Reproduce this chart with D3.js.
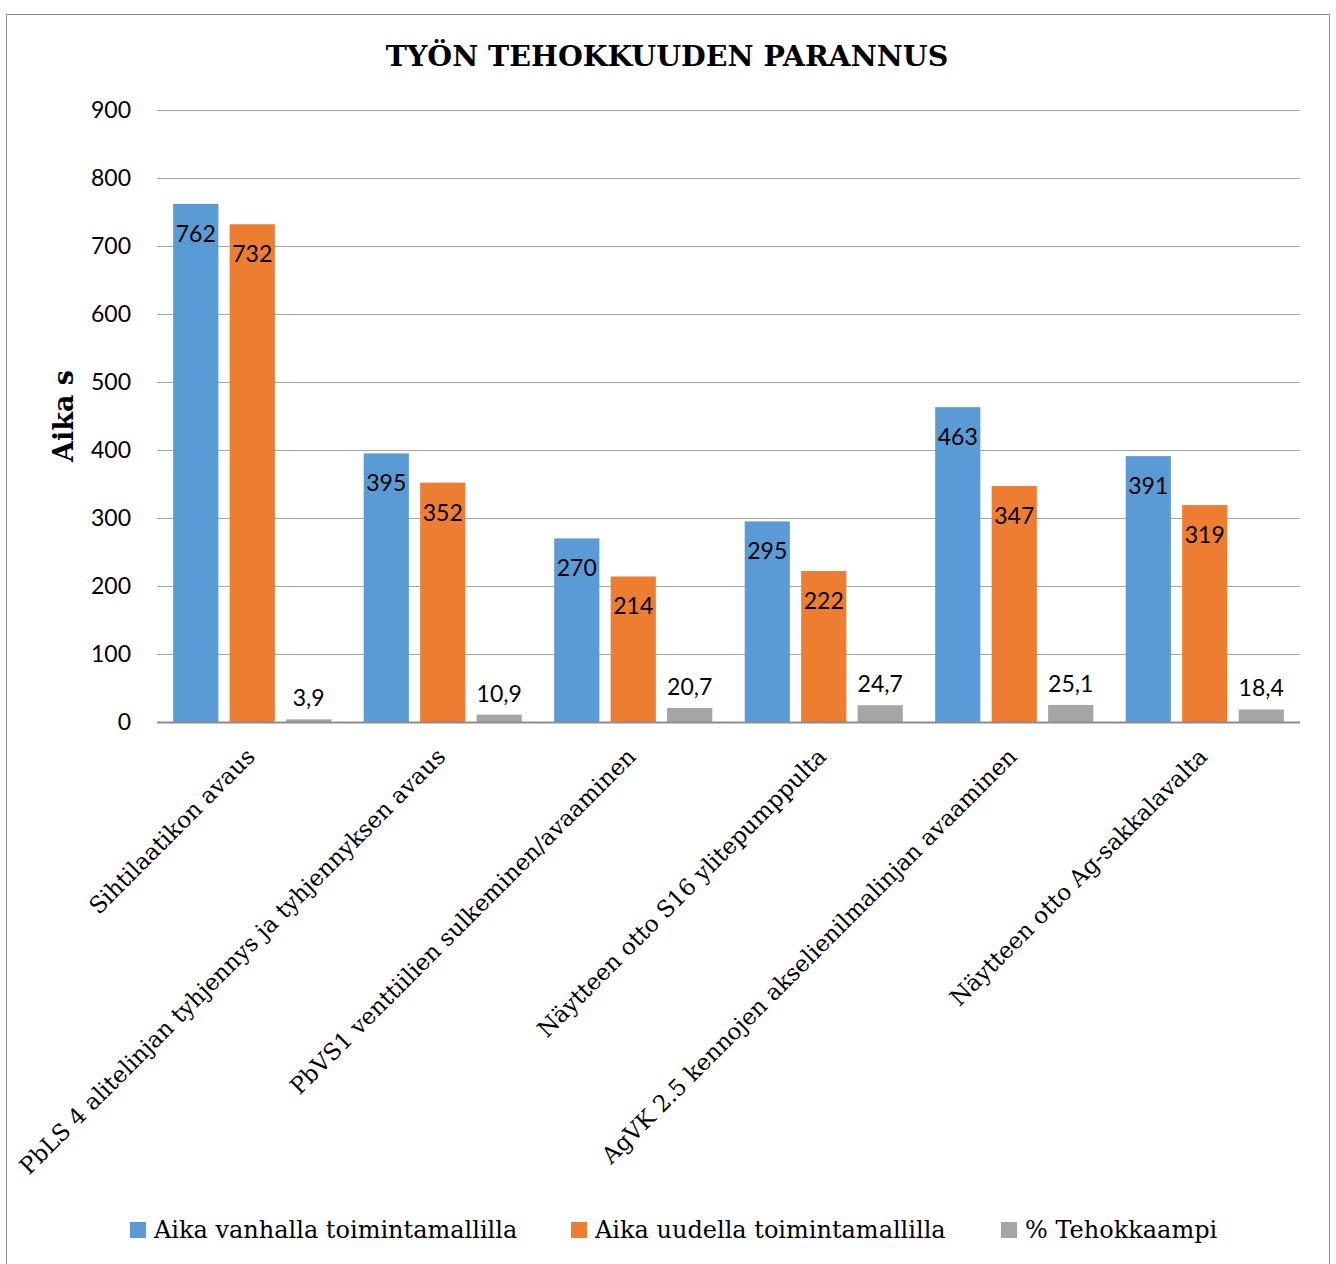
<!DOCTYPE html>
<html>
<head>
<meta charset="utf-8">
<script src="https://cdn.jsdelivr.net/npm/d3@7"></script>
<style>
  body { margin: 0; background: #fff; }
  svg { display: block; }
</style>
</head>
<body>
<svg id="chart" width="1336" height="1264"></svg>
<script>
/* chart data */
const categories = [
  "Sihtilaatikon avaus",
  "PbLS 4 alitelinjan tyhjennys ja tyhjennyksen avaus",
  "PbVS1 venttiilien sulkeminen/avaaminen",
  "Näytteen otto S16 ylitepumppulta",
  "AgVK 2.5 kennojen akselienilmalinjan avaaminen",
  "Näytteen otto Ag-sakkalavalta"
];
const seriesNames = ["Aika vanhalla toimintamallilla", "Aika uudella toimintamallilla", "% Tehokkaampi"];
const oldTime = [762, 395, 270, 295, 463, 391];
const newTime = [732, 352, 214, 222, 347, 319];
const percent = [3.9, 10.9, 20.7, 24.7, 25.1, 18.4];
const yTicks = [0, 100, 200, 300, 400, 500, 600, 700, 800, 900];

const colors = ["#5B9BD5", "#ED7D31", "#A5A5A5"];
const sans = "Lato, 'Open Sans', sans-serif";
const serif = "'DejaVu Serif', 'Liberation Serif', serif";

const svg = d3.select("#chart");

/* outer frame */
svg.append("rect").attr("x", 6.5).attr("y", 14.5).attr("width", 1323).attr("height", 1260)
  .attr("fill", "#fff").attr("stroke", "#8c8c8c").attr("stroke-width", 1);

const plot = { left: 157, right: 1300, top: 110, bottom: 722 };

const x0 = d3.scaleBand().domain(d3.range(categories.length))
  .range([plot.left, plot.right]).paddingInner(0.17).paddingOuter(0.085);
const x1 = d3.scaleBand().domain(d3.range(3)).range([0, x0.bandwidth()]).paddingInner(0.2);
const y = d3.scaleLinear().domain([0, 900]).range([plot.bottom, plot.top]);

/* title */
svg.append("text").attr("x", 667).attr("y", 66).attr("text-anchor", "middle")
  .style("font-family", serif).style("font-weight", "bold").style("font-size", "28.5px")
  .text("TYÖN TEHOKKUUDEN PARANNUS");

/* gridlines */
svg.append("g").selectAll("line").data(yTicks.filter(d => d > 0)).join("line")
  .attr("x1", plot.left).attr("x2", plot.right)
  .attr("y1", d => y(d) + 0.5).attr("y2", d => y(d) + 0.5)
  .attr("stroke", "#a6a6a6").attr("stroke-width", 1);

/* y tick labels */
svg.append("g").selectAll("text").data(yTicks).join("text")
  .attr("x", 131).attr("y", d => y(d)).attr("dy", "0.35em").attr("text-anchor", "end")
  .style("font-family", sans).style("font-size", "23px").attr("fill", "#000")
  .text(d => d);

/* y axis title */
svg.append("text").attr("transform", `translate(73,${(plot.top + plot.bottom) / 2}) rotate(-90)`)
  .attr("text-anchor", "middle")
  .style("font-family", serif).style("font-weight", "bold").style("font-size", "27px")
  .text("Aika s");

/* bars */
const series = [oldTime, newTime, percent];
const groups = svg.append("g").selectAll("g").data(categories).join("g")
  .attr("transform", (d, i) => `translate(${x0(i)},0)`);

groups.each(function (cat, i) {
  const g = d3.select(this);
  series.forEach((vals, s) => {
    const v = vals[i];
    g.append("rect")
      .attr("x", x1(s)).attr("width", x1.bandwidth())
      .attr("y", y(v)).attr("height", y(0) - y(v))
      .attr("fill", colors[s]);
    const label = s === 2 ? String(v).replace(".", ",") : String(v);
    g.append("text")
      .attr("x", x1(s) + x1.bandwidth() / 2)
      .attr("y", s === 2 ? y(v) - 13 : y(v) + 38)
      .attr("text-anchor", "middle")
      .style("font-family", sans).style("font-size", "23px").attr("fill", "#000")
      .text(label);
  });
});

/* x axis line */
svg.append("line").attr("x1", plot.left).attr("x2", plot.right)
  .attr("y1", plot.bottom + 0.5).attr("y2", plot.bottom + 0.5)
  .attr("stroke", "#8c8c8c").attr("stroke-width", 2);

/* category labels, rotated */
svg.append("g").selectAll("text").data(categories).join("text")
  .attr("transform", (d, i) => `translate(${x0(i) + x0.bandwidth() / 2 + 4},${plot.bottom + 36}) rotate(-45)`)
  .attr("text-anchor", "end")
  .style("font-family", serif).style("font-size", "23px").attr("fill", "#000")
  .text(d => d);

/* legend */
const legendX = [130, 571, 1001];
const legend = svg.append("g");
seriesNames.forEach((name, i) => {
  legend.append("rect").attr("x", legendX[i]).attr("y", 1222).attr("width", 16).attr("height", 16)
    .attr("fill", colors[i]);
  legend.append("text").attr("x", legendX[i] + 24).attr("y", 1238)
    .style("font-family", serif).style("font-size", "24px").attr("fill", "#000")
    .text(name);
});
</script>
</body>
</html>
